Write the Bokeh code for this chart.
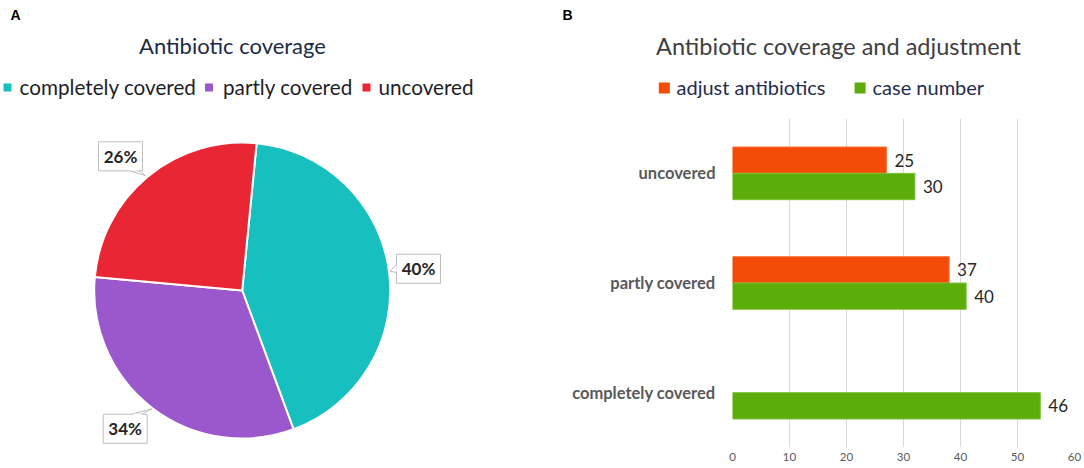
import math
from bokeh.plotting import figure
from bokeh.layouts import row, column
from bokeh.models import Range1d, FactorRange, ColumnDataSource, FixedTicker
from bokeh.transform import dodge
from bokeh.core.properties import value
from bokeh.embed import file_html
from bokeh.resources import INLINE

# ---------------- data ----------------
pie_categories = ["completely covered", "partly covered", "uncovered"]
pie_shares = [42.8, 32.1, 25.1]          # slice sizes as drawn (percent of circle)
pie_labels = ["40%", "34%", "26%"]       # printed labels
pie_colors = ["#17BFBE", "#9B57CC", "#E92633"]

bar_categories = ["completely covered", "partly covered", "uncovered"]   # bottom -> top
adjust_lengths = [None, 38, 27]          # bar lengths as drawn
adjust_labels = [None, "37", "25"]
case_lengths = [54, 41, 32]
case_labels = ["46", "40", "30"]
x_ticks = [0, 10, 20, 30, 40, 50, 60]
series_names = ["adjust antibiotics", "case number"]
series_colors = ["#F54B08", "#5CAD09"]

FONT = "Lato"
W, H = 1084, 468                  # page size; data y = H - page y in the pixel panels
HEAD = 118                        # header strip height (top of the bar plot area)
FR_L, FR_R, FR_B = 732, 1074, 447  # bar plot-area edges (page pixels)
BOTTOM = H - FR_B


def pixfig(width, height, x0, x1, y0, y1, mb_right=0, mb_bottom=0):
    p = figure(width=width, height=height, output_backend="svg", toolbar_location=None,
               x_range=Range1d(x0, x1), y_range=Range1d(y0, y1),
               min_border=0, min_border_left=0, min_border_right=mb_right,
               min_border_top=0, min_border_bottom=mb_bottom)
    p.axis.visible = False
    p.grid.visible = False
    p.outline_line_color = None
    return p


def txt(p, x, y, s, size, color, font=FONT, style="normal", align="left"):
    p.text(x=[x], y=[H - y], text=[s], text_font=value(font), text_font_size=value(size),
           text_font_style=style, text_color=color, text_align=align, text_baseline="middle")


# ---------------- header strip (titles, legends, panel letters) ----------------
ph = pixfig(W, HEAD, 0, W - 10, H - HEAD, H, mb_right=10)
txt(ph, 10, 14, "A", "14px", "#000000", font="Arial", style="bold")
txt(ph, 562, 14, "B", "14px", "#000000", font="Arial", style="bold")
txt(ph, 232, 45, "Antibiotic coverage", "22px", "#1B2A47", align="center")
txt(ph, 838, 45, "Antibiotic coverage and adjustment", "23.5px", "#404040", align="center")

leg_sq_x = [7, 208.5, 366]
leg_tx_x = [19, 222.5, 378]
for i, cat in enumerate(pie_categories):
    ph.rect(x=[leg_sq_x[i]], y=[H - 87], width=8, height=8, fill_color=pie_colors[i], line_color=None)
    txt(ph, leg_tx_x[i], 86, cat, "20.7px", "#1E1E2A")

hb_sq_x = [663.8, 859.6]
hb_tx_x = [676, 872]
for i, nm in enumerate(series_names):
    ph.rect(x=[hb_sq_x[i]], y=[H - 87.5], width=11, height=11, fill_color=series_colors[i], line_color=None)
    txt(ph, hb_tx_x[i], 86, nm, "20px", "#1F2D4D")

# ---------------- left panel: pie ----------------
pa = pixfig(540, H - HEAD, 0, 540, BOTTOM, H - HEAD, mb_bottom=BOTTOM)

cx, cy, r = 241.7, H - 290, 148
start_cw = 5.6
cum = start_cw
starts, ends = [], []
for s in pie_shares:
    a0 = cum
    a1 = cum + s * 3.6
    starts.append(math.radians(90 - a0))
    ends.append(math.radians(90 - a1))
    cum = a1
pie_src = ColumnDataSource(dict(start=starts, end=ends, color=pie_colors))
pa.wedge(x=cx, y=cy, radius=r, start_angle="start", end_angle="end", direction="clock",
         fill_color="color", line_color="white", line_width=2, source=pie_src)

box_cx = [418, 124.7, 120]
box_cy = [268.3, 428.3, 155.8]
tips = [(389.3, 270.7), (151.7, 408.3), (145, 175)]
bases = [((396, 264), (396, 272)), ((132, 413.3), (142, 413.3)), ((128, 170), (138, 170))]
for i in range(3):
    (bx0, by0), (bx1, by1) = bases[i]
    tx, ty = tips[i]
    pa.patch(x=[bx0, tx, bx1], y=[H - by0, H - ty, H - by1], fill_color="white",
             line_color="#BFBFBF", line_width=1)
pa.rect(x=box_cx, y=[H - v for v in box_cy], width=44, height=29, fill_color="white",
        line_color="#BFBFBF", line_width=1)
cover = [((396.5, 265), (396.5, 271)), ((133, 413.8), (141, 413.8)), ((129, 169.5), (137, 169.5))]
for (a, b) in cover:
    pa.line(x=[a[0], b[0]], y=[H - a[1], H - b[1]], line_color="white", line_width=1.5)
pa.text(x=box_cx, y=[H - v for v in box_cy], text=pie_labels, text_font=value(FONT),
        text_font_style="bold", text_font_size=value("17px"), text_color="#262626",
        text_align="center", text_baseline="middle")

# ---------------- right panel: bars ----------------
pb = figure(width=W - 540, height=H - HEAD, output_backend="svg", toolbar_location=None,
            y_range=FactorRange(factors=bar_categories, range_padding=0),
            x_range=Range1d(0, 60),
            min_border_left=FR_L - 540, min_border_right=W - FR_R,
            min_border_top=0, min_border_bottom=BOTTOM)
pb.outline_line_color = None
pb.ygrid.grid_line_color = None
pb.xgrid.grid_line_color = "#D9D9D9"
pb.xgrid.grid_line_width = 1
pb.xaxis.ticker = FixedTicker(ticks=x_ticks)
for ax in (pb.xaxis[0], pb.yaxis[0]):
    ax.axis_line_color = None
    ax.major_tick_line_color = None
    ax.minor_tick_line_color = None
    ax.major_tick_out = 0
    ax.major_tick_in = 0
pb.xaxis.major_label_text_font = FONT
pb.xaxis.major_label_text_font_size = "11.5px"
pb.xaxis.major_label_text_color = "#595959"
pb.xaxis.major_label_standoff = 5
pb.yaxis.major_label_text_font = FONT
pb.yaxis.major_label_text_font_style = "bold"
pb.yaxis.major_label_text_font_size = "16.5px"
pb.yaxis.major_label_text_color = "#595959"
pb.yaxis.major_label_standoff = 17

adj_rows = [(c, v, l) for c, v, l in zip(bar_categories, adjust_lengths, adjust_labels) if v is not None]
adj_src = ColumnDataSource(dict(cat=[a[0] for a in adj_rows], val=[a[1] for a in adj_rows],
                                lab=[a[2] for a in adj_rows]))
case_src = ColumnDataSource(dict(cat=bar_categories, val=case_lengths, lab=case_labels))

pb.hbar(y=dodge("cat", 0.12, range=pb.y_range), left=0, right="val", height=0.24,
        fill_color=series_colors[0], line_color="#F7703A", line_width=1, source=adj_src)
pb.hbar(y=dodge("cat", -0.12, range=pb.y_range), left=0, right="val", height=0.24,
        fill_color=series_colors[1], line_color="#7CC23A", line_width=1, source=case_src)
for src, off in ((adj_src, 0.12), (case_src, -0.12)):
    pb.text(x="val", y=dodge("cat", off, range=pb.y_range), text="lab", x_offset=8,
            text_font=value(FONT), text_font_size=value("17px"), text_color="#262626",
            text_align="left", text_baseline="middle", source=src)

layout = column(ph, row(pa, pb))
open("out.html", "w").write(file_html(layout, INLINE))
